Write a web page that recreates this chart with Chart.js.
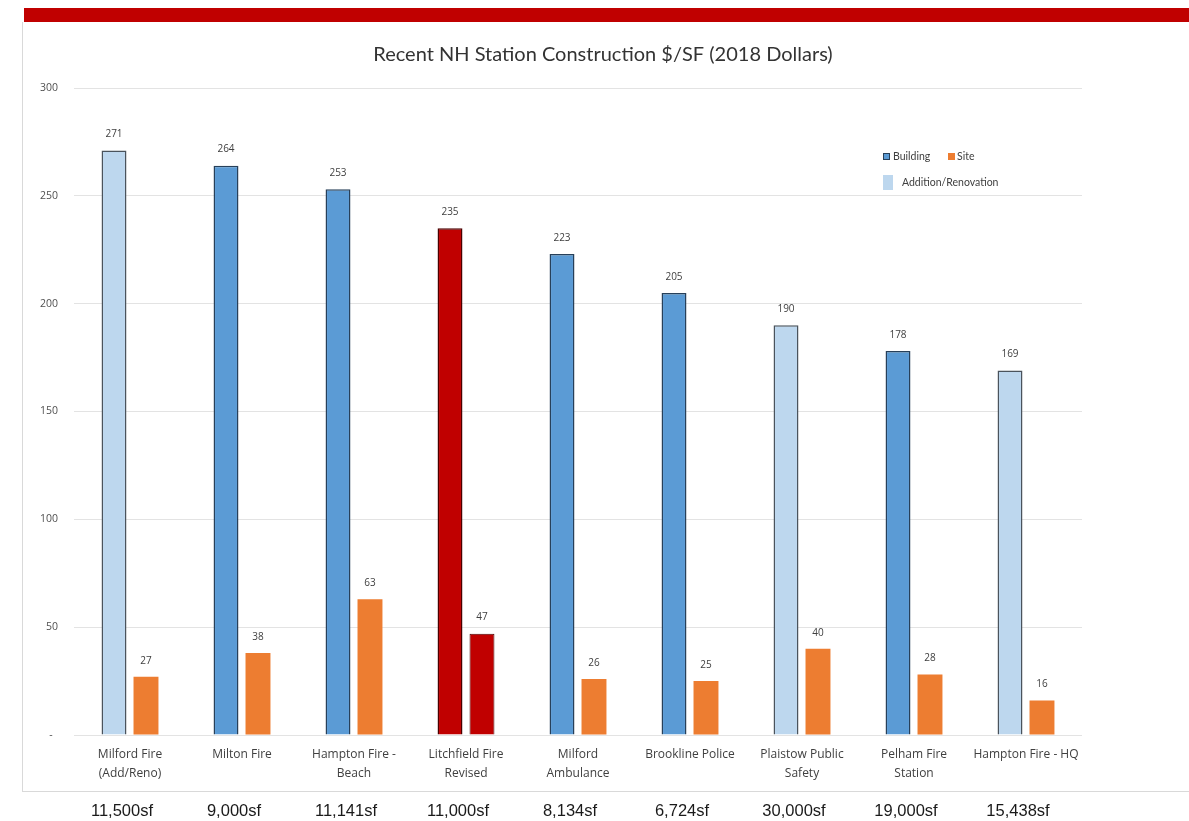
<!DOCTYPE html>
<html>
<head>
<meta charset="utf-8">
<script src="https://cdn.jsdelivr.net/npm/chart.js@4.4.1/dist/chart.umd.min.js"></script>
<style>
  html, body { margin: 0; padding: 0; background: #ffffff; }
  #wrap { position: relative; width: 1189px; height: 821px; overflow: hidden; }
  #redbar { position: absolute; left: 24px; top: 8px; width: 1165px; height: 14px; background: #c00000; }
  #panel { position: absolute; left: 22px; top: 22px; width: 1167px; height: 770px;
           border-left: 1px solid #d9d9d9; border-bottom: 1px solid #d9d9d9; box-sizing: border-box; }
  canvas { position: absolute; left: 0; top: 0; }
</style>
</head>
<body>
<div id="wrap">
  <div id="redbar"></div>
  <div id="panel"></div>
  <canvas id="c" width="1189" height="821"></canvas>
</div>
<script>
// ---- data ----
const categories = [
  ["Milford Fire", "(Add/Reno)"],
  ["Milton Fire"],
  ["Hampton Fire -", "Beach"],
  ["Litchfield Fire", "Revised"],
  ["Milford", "Ambulance"],
  ["Brookline Police"],
  ["Plaistow Public", "Safety"],
  ["Pelham Fire", "Station"],
  ["Hampton Fire - HQ"]
];
const buildingValues = [271, 264, 253, 235, 223, 205, 190, 178, 169];
const siteValues = [27, 38, 63, 47, 26, 25, 40, 28, 16];
const squareFeet = ["11,500sf", "9,000sf", "11,141sf", "11,000sf", "8,134sf", "6,724sf", "30,000sf", "19,000sf", "15,438sf"];
const isAdditionRenovation = [true, false, false, false, false, false, true, false, true];
const isHighlighted = [false, false, false, true, false, false, false, false, false];
const yTicks = [0, 50, 100, 150, 200, 250, 300];
const chartTitle = "Recent NH Station Construction $/SF (2018 Dollars)";
const legendItems = ["Building", "Site", "Addition/Renovation"];

// ---- styles ----
const BLUE = "#5b9bd5", BLUE_BORDER = "#27405a";
const LIGHT = "#bdd7ee", LIGHT_BORDER = "#4a535c";
const ORANGE = "#ed7d31";
const RED = "#c00000", RED_BORDER = "#4a0000";
const FONT = "'Open Sans', 'DejaVu Sans', sans-serif";
const TFONT = "Lato, 'Open Sans', sans-serif";

const buildingBg = buildingValues.map((v, i) => isHighlighted[i] ? RED : (isAdditionRenovation[i] ? LIGHT : BLUE));
const buildingBorder = buildingValues.map((v, i) => isHighlighted[i] ? RED_BORDER : (isAdditionRenovation[i] ? LIGHT_BORDER : BLUE_BORDER));
const siteBg = siteValues.map((v, i) => isHighlighted[i] ? RED : ORANGE);
const siteBorderW = siteValues.map((v, i) => isHighlighted[i] ? 1 : 0);

const valueLabels = {
  id: "valueLabels",
  afterDatasetsDraw(chart) {
    const ctx = chart.ctx;
    ctx.save();
    ctx.font = "10px " + FONT;
    ctx.fillStyle = "#404040";
    ctx.textAlign = "center";
    ctx.textBaseline = "middle";
    chart.data.datasets.forEach((ds, di) => {
      chart.getDatasetMeta(di).data.forEach((bar, i) => {
        ctx.fillText(String(ds.data[i]), bar.x, bar.y - 16);
      });
    });
    ctx.restore();
  }
};

const extras = {
  id: "extras",
  afterDraw(chart) {
    const ctx = chart.ctx;
    const xs = chart.scales.x;
    ctx.save();
    // title
    ctx.font = "20px " + TFONT;
    ctx.fillStyle = "#333333";
    ctx.textAlign = "center";
    ctx.textBaseline = "middle";
    ctx.fillText(chartTitle, 603, 55);
    // square-foot labels under the panel
    ctx.font = "16.5px 'Liberation Sans', Arial, sans-serif";
    ctx.fillStyle = "#1a1a1a";
    squareFeet.forEach((s, i) => {
      ctx.fillText(s, xs.getPixelForValue(i) - 8, 811);
    });
    // legend
    ctx.font = "10.5px " + TFONT;
    ctx.textAlign = "left";
    ctx.fillStyle = BLUE; ctx.fillRect(883, 153, 7, 7);
    ctx.strokeStyle = BLUE_BORDER; ctx.lineWidth = 1; ctx.strokeRect(883.5, 153.5, 6, 6);
    ctx.fillStyle = "#404040"; ctx.fillText(legendItems[0], 893, 157);
    ctx.fillStyle = ORANGE; ctx.fillRect(948, 153, 7, 7);
    ctx.fillStyle = "#404040"; ctx.fillText(legendItems[1], 957, 157);
    ctx.fillStyle = LIGHT; ctx.fillRect(883, 175, 10, 15);
    ctx.fillStyle = "#404040"; ctx.fillText(legendItems[2], 902, 183);
    ctx.restore();
  }
};

new Chart(document.getElementById("c"), {
  type: "bar",
  data: {
    labels: categories,
    datasets: [
      { label: "Building", data: buildingValues, backgroundColor: buildingBg, borderColor: buildingBorder, borderWidth: 1.5,
        categoryPercentage: 0.571, barPercentage: 0.78 },
      { label: "Site", data: siteValues, backgroundColor: siteBg, borderColor: RED_BORDER, borderWidth: siteBorderW,
        categoryPercentage: 0.571, barPercentage: 0.78 }
    ]
  },
  options: {
    responsive: false,
    animation: false,
    devicePixelRatio: 1,
    layout: { padding: { left: 0, right: 107, top: 88, bottom: 0 } },
    plugins: {
      legend: { display: false },
      tooltip: { enabled: false },
      title: { display: false }
    },
    scales: {
      x: {
        grid: { display: false, drawTicks: false },
        border: { display: false },
        ticks: { color: "#404040", font: { family: FONT, size: 12, lineHeight: 1.58 }, padding: 10, maxRotation: 0, autoSkip: false },
        afterFit(scale) { scale.height = 86; }
      },
      y: {
        min: 0, max: 300,
        afterBuildTicks(scale) { scale.ticks = yTicks.map(v => ({ value: v })); },
        grid: { color: "#e3e3e3", drawTicks: false, lineWidth: 1 },
        border: { display: false },
        ticks: { color: "#505050", font: { family: FONT, size: 10.5 }, padding: 16,
                 callback: (v) => v === 0 ? "-  " : String(v) },
        afterFit(scale) { scale.width = 74; }
      }
    }
  },
  plugins: [valueLabels, extras]
});
</script>
</body>
</html>
